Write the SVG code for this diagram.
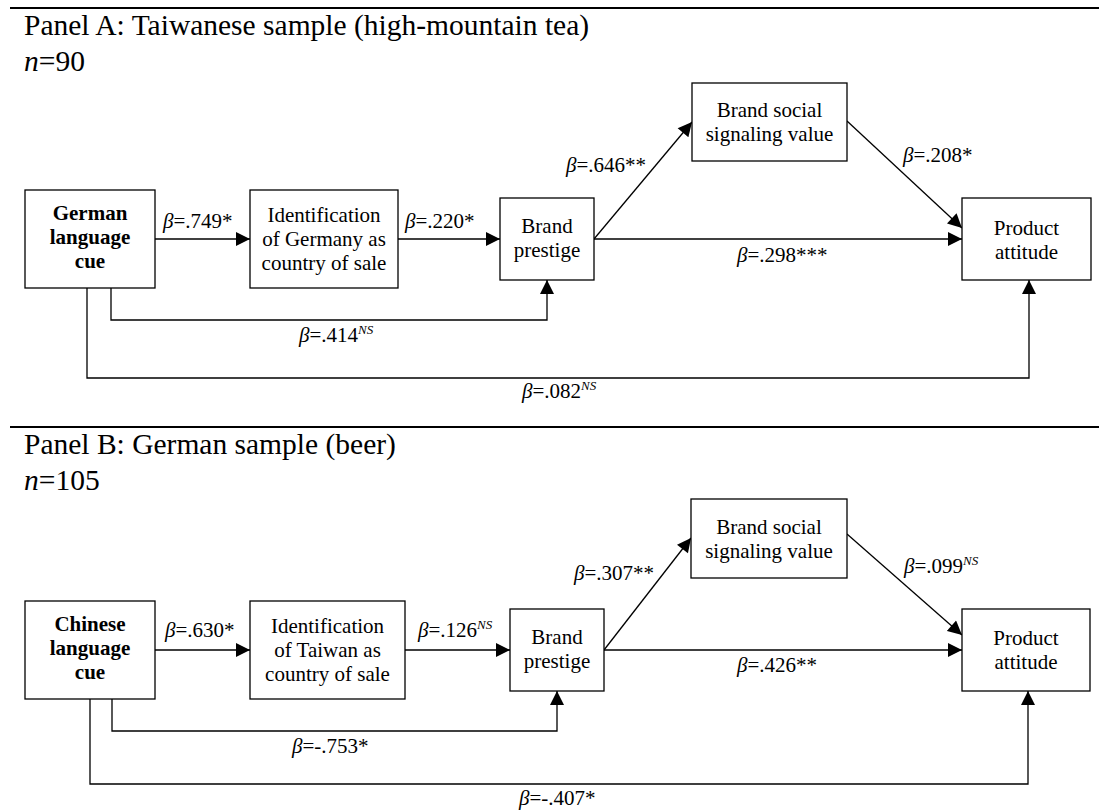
<svg xmlns="http://www.w3.org/2000/svg" width="1099" height="812" viewBox="0 0 1099 812" font-family="'Liberation Serif', 'Times New Roman', 'DejaVu Serif', serif">
<defs>
<marker id="ah" viewBox="0 0 10 10" refX="10" refY="5" markerWidth="15" markerHeight="14" markerUnits="userSpaceOnUse" orient="auto">
<path d="M0,0 L10,5 L0,10 z" fill="#000"/>
</marker>
<style>
text{font-family:'Liberation Serif','Times New Roman','DejaVu Serif',serif;fill:#000}
.ttl{font-size:29.5px}
.bx{fill:#fff;stroke:#000;stroke-width:1.3}
.nt{font-size:21px;text-anchor:middle}
.b{font-weight:bold}
.lb{font-size:21px}
.it{font-style:italic}
.ns{font-size:13px;font-style:italic}
.c{fill:none;stroke:#000;stroke-width:1.3}
.a{marker-end:url(#ah)}
.rule{stroke:#000;stroke-width:2.2}
</style>
</defs>
<rect width="1099" height="812" fill="#fff"/>

<g id="panelA-header">
<line class="rule" x1="10" y1="8" x2="1099" y2="8"/>
<text class="ttl" x="24" y="35">Panel A: Taiwanese sample (high-mountain tea)</text>
<text class="ttl" x="24" y="71"><tspan class="it">n</tspan>=90</text>
</g>

<g id="connectorsA">
<line class="c a" x1="155" y1="239" x2="250" y2="239"/>
<line class="c a" x1="398" y1="239" x2="500" y2="239"/>
<line class="c a" x1="594" y1="239" x2="692" y2="122"/>
<line class="c a" x1="847" y1="121" x2="962" y2="228"/>
<line class="c a" x1="594" y1="239" x2="962" y2="239"/>
<polyline class="c a" points="111,288 111,320 547,320 547,280"/>
<polyline class="c a" points="87,288 87,378 1029,378 1029,280"/>
</g>

<g id="labelsA">
<text class="lb" x="163" y="228"><tspan class="it">β</tspan>=.749*</text>
<text class="lb" x="405" y="228"><tspan class="it">β</tspan>=.220*</text>
<text class="lb" x="566" y="172"><tspan class="it">β</tspan>=.646**</text>
<text class="lb" x="903" y="162"><tspan class="it">β</tspan>=.208*</text>
<text class="lb" x="737" y="262"><tspan class="it">β</tspan>=.298***</text>
<text class="lb" x="299" y="342"><tspan class="it">β</tspan>=.414<tspan class="ns" dy="-8">NS</tspan></text>
<text class="lb" x="522" y="398"><tspan class="it">β</tspan>=.082<tspan class="ns" dy="-8">NS</tspan></text>
</g>

<g id="A-german">
<rect class="bx" x="25" y="190" width="130" height="98"/>
<text class="nt b" x="90" y="220">German</text>
<text class="nt b" x="90" y="244">language</text>
<text class="nt b" x="90" y="268">cue</text>
</g>
<g id="A-ident">
<rect class="bx" x="250" y="190" width="148" height="98"/>
<text class="nt" x="324" y="222">Identification</text>
<text class="nt" x="324" y="246">of Germany as</text>
<text class="nt" x="324" y="270">country of sale</text>
</g>
<g id="A-prestige">
<rect class="bx" x="500" y="198" width="94" height="82"/>
<text class="nt" x="547" y="233">Brand</text>
<text class="nt" x="547" y="257">prestige</text>
</g>
<g id="A-social">
<rect class="bx" x="692" y="83" width="155" height="78"/>
<text class="nt" x="769.5" y="117">Brand social</text>
<text class="nt" x="769.5" y="141">signaling value</text>
</g>
<g id="A-product">
<rect class="bx" x="962" y="198" width="129" height="82"/>
<text class="nt" x="1026.5" y="235">Product</text>
<text class="nt" x="1026.5" y="259">attitude</text>
</g>

<g id="panelB-header">
<line class="rule" x1="10" y1="427" x2="1099" y2="427"/>
<text class="ttl" x="24" y="454">Panel B: German sample (beer)</text>
<text class="ttl" x="24" y="490"><tspan class="it">n</tspan>=105</text>
</g>

<g id="connectorsB">
<line class="c a" x1="155" y1="650" x2="250" y2="650"/>
<line class="c a" x1="405" y1="650" x2="510" y2="650"/>
<line class="c a" x1="604" y1="650" x2="691" y2="538"/>
<line class="c a" x1="847" y1="534" x2="962" y2="635"/>
<line class="c a" x1="604" y1="650" x2="962" y2="650"/>
<polyline class="c a" points="112,699 112,731 557,731 557,691"/>
<polyline class="c a" points="90,699 90,784 1028,784 1028,691"/>
</g>

<g id="labelsB">
<text class="lb" x="165" y="637"><tspan class="it">β</tspan>=.630*</text>
<text class="lb" x="418" y="637"><tspan class="it">β</tspan>=.126<tspan class="ns" dy="-8">NS</tspan></text>
<text class="lb" x="574" y="580"><tspan class="it">β</tspan>=.307**</text>
<text class="lb" x="904" y="573"><tspan class="it">β</tspan>=.099<tspan class="ns" dy="-8">NS</tspan></text>
<text class="lb" x="737" y="672"><tspan class="it">β</tspan>=.426**</text>
<text class="lb" x="292" y="753"><tspan class="it">β</tspan>=-.753*</text>
<text class="lb" x="519" y="805"><tspan class="it">β</tspan>=-.407*</text>
</g>

<g id="B-chinese">
<rect class="bx" x="25" y="601" width="130" height="98"/>
<text class="nt b" x="90" y="631">Chinese</text>
<text class="nt b" x="90" y="655">language</text>
<text class="nt b" x="90" y="679">cue</text>
</g>
<g id="B-ident">
<rect class="bx" x="250" y="601" width="155" height="98"/>
<text class="nt" x="327.5" y="633">Identification</text>
<text class="nt" x="327.5" y="657">of Taiwan as</text>
<text class="nt" x="327.5" y="681">country of sale</text>
</g>
<g id="B-prestige">
<rect class="bx" x="510" y="609" width="94" height="82"/>
<text class="nt" x="557" y="644">Brand</text>
<text class="nt" x="557" y="668">prestige</text>
</g>
<g id="B-social">
<rect class="bx" x="691" y="499" width="156" height="79"/>
<text class="nt" x="769" y="534">Brand social</text>
<text class="nt" x="769" y="558">signaling value</text>
</g>
<g id="B-product">
<rect class="bx" x="962" y="609" width="128" height="82"/>
<text class="nt" x="1026" y="645">Product</text>
<text class="nt" x="1026" y="669">attitude</text>
</g>
</svg>
